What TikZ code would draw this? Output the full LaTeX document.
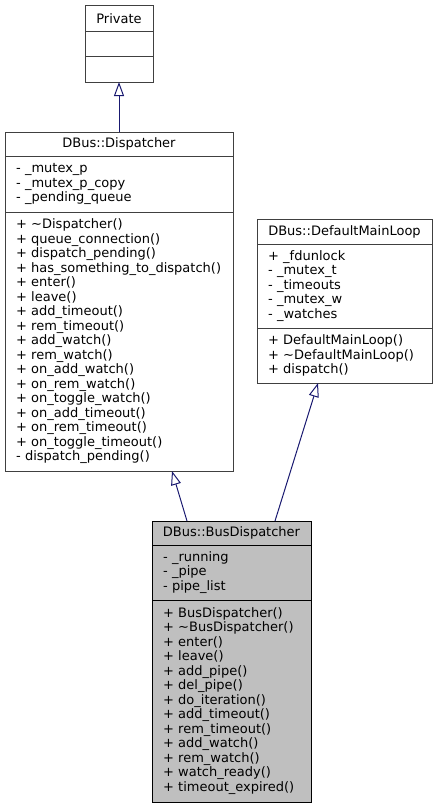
\documentclass[tikz,border=0pt]{standalone}
\usepackage{fontspec}
\setmainfont{DejaVu Sans}
\usetikzlibrary{arrows.meta,calc}
\definecolor{edgeblue}{HTML}{191970}
\definecolor{grey75}{HTML}{BFBFBF}
\tikzset{
	classbox/.style={draw=black!75, line width=1pt, inner sep=0pt, outer sep=0pt, anchor=north west},
	sep/.style={draw=black!75, line width=1pt},
	title/.style={font=\fontsize{13}{14.5}\selectfont, inner sep=0pt},
	members/.style={font=\fontsize{13}{14.5}\selectfont, align=left, anchor=west, inner sep=0pt},
	inherit/.style={draw=edgeblue, line width=1pt, -{Triangle[open, length=14pt, width=10pt]}},
}
\newcommand{\tl}{\textasciitilde}

\begin{document}
\begin{tikzpicture}[x=1pt, y=-1pt]
			%%%%% START %%%%%
			\useasboundingbox (0,0) rectangle (437,808);
			
			% Private
			\node[classbox, minimum width=68, minimum height=76] (private) at (85,6) {};
			\draw[sep] (85,32) -- (153,32);
			\draw[sep] (85,57) -- (153,57);
			\node[title] (privatetitle) at (119,19) {Private};
			
			% DBus::Dispatcher
			\node[classbox, minimum width=228, minimum height=339] (disp) at (5,132) {};
			\draw[sep] (5,156) -- (233,156);
			\draw[sep] (5,212) -- (233,212);
			\node[title] (disptitle) at (119,144) {DBus::Dispatcher};
			\node[members] (dispattr) at (16,184) {- \_mutex\_p\\- \_mutex\_p\_copy\\- \_pending\_queue};
			\node[members] (dispops) at (16,341.5) {+ \tl Dispatcher()\\+ queue\_connection()\\+ dispatch\_pending()\\+ has\_something\_to\_dispatch()\\+ enter()\\+ leave()\\+ add\_timeout()\\+ rem\_timeout()\\+ add\_watch()\\+ rem\_watch()\\+ on\_add\_watch()\\+ on\_rem\_watch()\\+ on\_toggle\_watch()\\+ on\_add\_timeout()\\+ on\_rem\_timeout()\\+ on\_toggle\_timeout()\\- dispatch\_pending()};
			
			% DBus::DefaultMainLoop
			\node[classbox, minimum width=175, minimum height=164] (mainloop) at (257,219) {};
			\draw[sep] (257,244) -- (432,244);
			\draw[sep] (257,328) -- (432,328);
			\node[title] (mainlooptitle) at (344.5,231.5) {DBus::DefaultMainLoop};
			\node[members] (mainloopattr) at (268,286) {+ \_fdunlock\\- \_mutex\_t\\- \_timeouts\\- \_mutex\_w\\- \_watches};
			\node[members] (mainloopops) at (268,355.5) {+ DefaultMainLoop()\\+ \tl DefaultMainLoop()\\+ dispatch()};
			
			% DBus::BusDispatcher
			\node[classbox, draw=black, fill=grey75, minimum width=159, minimum height=281] (busdisp) at (152,521) {};
			\draw[sep, draw=black] (152,545) -- (311,545);
			\draw[sep, draw=black] (152,600) -- (311,600);
			\node[title] (busdisptitle) at (231.5,533) {DBus::BusDispatcher};
			\node[members] (busdispattr) at (163,572.5) {- \_running\\- \_pipe\\- pipe\_list};
			\node[members] (busdispops) at (163,701) {+ BusDispatcher()\\+ \tl BusDispatcher()\\+ enter()\\+ leave()\\+ add\_pipe()\\+ del\_pipe()\\+ do\_iteration()\\+ add\_timeout()\\+ rem\_timeout()\\+ add\_watch()\\+ rem\_watch()\\+ watch\_ready()\\+ timeout\_expired()};
			
			% inheritance
			\draw[inherit] (disp.north) -- (private.south);
			\draw[inherit] ([xshift=35pt]busdisp.north west) -- ([xshift=167pt]disp.south west);
			\draw[inherit] ([xshift=123pt]busdisp.north west) -- ([xshift=61pt]mainloop.south west);
			
			%%%%% END %%%%%
\end{tikzpicture}
\end{document}
